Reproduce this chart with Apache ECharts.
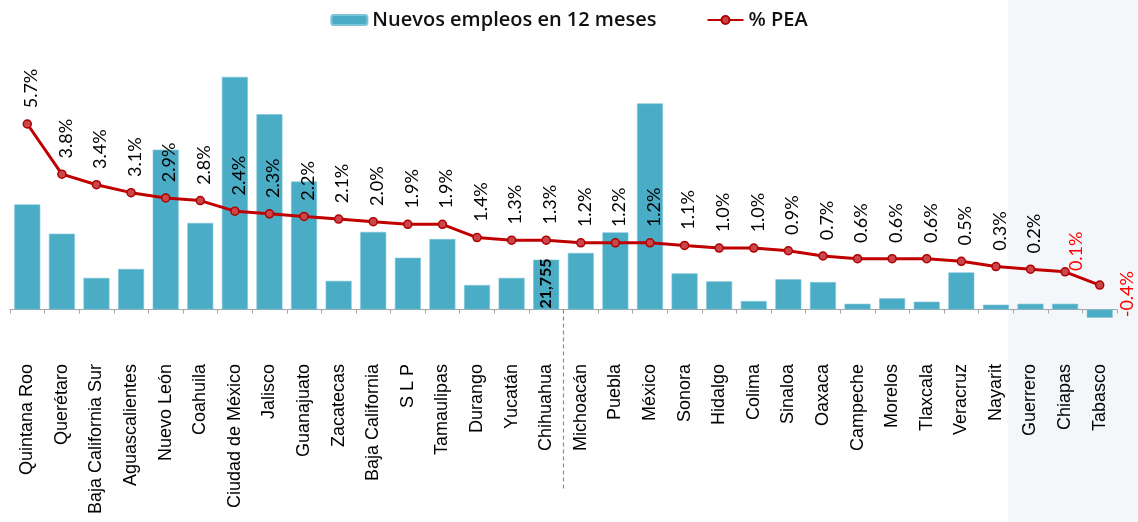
<!DOCTYPE html>
<html>
<head>
<meta charset="utf-8">
<script src="https://cdn.jsdelivr.net/npm/echarts@6/dist/echarts.min.js"></script>
<style>html,body{margin:0;padding:0;background:#fff}#c{width:1138px;height:522px}</style>
</head>
<body>
<div id="c"></div>
<script>
const categories = ['Quintana Roo','Querétaro','Baja California Sur','Aguascalientes','Nuevo León','Coahuila','Ciudad de México','Jalisco','Guanajuato','Zacatecas','Baja California','S L P','Tamaulipas','Durango','Yucatán','Chihuahua','Michoacán','Puebla','México','Sonora','Hidalgo','Colima','Sinaloa','Oaxaca','Campeche','Morelos','Tlaxcala','Veracruz','Nayarit','Guerrero','Chiapas','Tabasco'];
const empleos = [45900,33100,13800,17700,69800,37800,101600,85300,55900,12500,33900,22600,30800,10700,13800,21755,24700,33700,90000,15800,12300,3700,13200,12000,2500,4900,3400,16200,2100,2500,2500,-3600];
const pea = [5.7,3.8,3.4,3.1,2.9,2.8,2.4,2.3,2.2,2.1,2.0,1.9,1.9,1.4,1.3,1.3,1.2,1.2,1.2,1.1,1.0,1.0,0.9,0.7,0.6,0.6,0.6,0.5,0.3,0.2,0.1,-0.4];
const seriesNames = ['Nuevos empleos en 12 meses','% PEA'];
const labeledBar = 'Chihuahua';

const chart = echarts.init(document.getElementById('c'));

const barData = empleos.map((v,i)=> categories[i]===labeledBar ? {
  value:v,
  label:{show:true,position:'insideBottom',rotate:90,align:'left',verticalAlign:'middle',distance:1,
    formatter:p=>p.value.toLocaleString('en-US'),fontFamily:'Lato',fontWeight:'bold',fontSize:16,color:'#000'}
} : v);

const n = pea.length;
const lineData = pea.map((v,i)=>{
  if(i===n-2) return {value:v,label:{position:[16,4],offset:[0,0],color:'#ff0000'}};
  if(i===n-1) return {value:v,label:{position:[32,37],offset:[0,0],color:'#ff0000'}};
  return v;
});

chart.setOption({
  animation:false,
  legend:{
    top:5, left:'center', itemWidth:36, itemHeight:10, itemGap:50,
    textStyle:{fontFamily:'Open Sans',fontWeight:600,fontSize:20,color:'#111'},
    data:seriesNames
  },
  grid:{left:10,right:21,top:40,bottom:202,containLabel:false},
  xAxis:{
    type:'category',data:categories,
    axisLine:{onZero:true,lineStyle:{color:'#a6a6a6',width:1}},
    axisTick:{show:true,length:4,lineStyle:{color:'#a6a6a6'}},
    axisLabel:{interval:0,rotate:90,margin:44,fontFamily:'Liberation Sans',fontSize:18,color:'#000'}
  },
  yAxis:[
    {type:'value',min:-4586,max:117718,show:false,splitLine:{show:false}},
    {type:'value',min:-1.7235,max:8.882,show:false,splitLine:{show:false}}
  ],
  series:[
    {name:seriesNames[0],type:'bar',data:barData,barCategoryGap:'25%',
     itemStyle:{color:'#4bacc6',borderColor:'#7cc4d6',borderWidth:0.6}},
    {name:seriesNames[1],type:'line',yAxisIndex:1,data:lineData,
     lineStyle:{color:'#c00000',width:3},
     symbol:'circle',symbolSize:8,
     itemStyle:{color:'#c9474a',borderColor:'#b00000',borderWidth:1.5},
     label:{show:true,position:'top',rotate:90,align:'left',verticalAlign:'middle',distance:11,offset:[0,4],
       formatter:p=>p.value.toFixed(1)+'%',fontFamily:'Lato',fontSize:18,color:'#000'},
     z:5}
  ]
});

// decorations positioned from the library's own scales
const xc = name => chart.convertToPixel({xAxisIndex:0}, name);
const y0 = chart.convertToPixel({yAxisIndex:0}, 0);
const xDash = (xc('Chihuahua') + xc('Michoacán'))/2;
const xShade = (xc('Nayarit') + xc('Guerrero'))/2 - 5;
chart.setOption({
  graphic:[
    {type:'rect',z:-10,silent:true,shape:{x:xShade,y:0,width:1138-xShade,height:522},style:{fill:'#f4f7f9'}},
    {type:'line',z:10,silent:true,shape:{x1:xDash,y1:y0,x2:xDash,y2:490},style:{stroke:'#8c8c8c',lineWidth:1.2,lineDash:[4,3]}}
  ]
});
</script>
</body>
</html>
